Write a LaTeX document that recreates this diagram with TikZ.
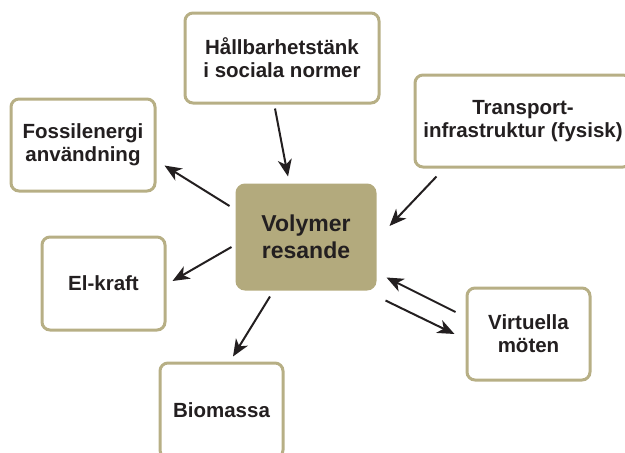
\documentclass[tikz,border=0pt]{standalone}
\usepackage{fontspec}
\setmainfont{Liberation Sans}
\usetikzlibrary{arrows.meta,calc}
\definecolor{olive}{HTML}{B7AF85}
\definecolor{olivefill}{HTML}{B3AA7D}
\definecolor{ink}{HTML}{231F20}
\tikzset{
  box/.style={draw=olive, line width=3pt, rounded corners=8pt, fill=white,
    align=center, text=ink, inner sep=0pt,
    font=\fontsize{20.5}{23}\selectfont\bfseries},
  centerbox/.style={box, fill=olivefill, draw=olivefill,
    font=\fontsize{23}{27}\selectfont\bfseries},
  conn/.style={draw=ink, line width=2pt, -{Stealth[length=17pt,width=14pt,inset=5pt]}},
}
\begin{document}
\begin{tikzpicture}[x=1pt,y=-1pt]
\useasboundingbox (0,0) rectangle (625,453);
\clip (0,0) rectangle (625,453);
\node[box, minimum width=194pt, minimum height=90pt] (H) at (282,58) {Hållbarhetstänk\\i sociala normer};
\node[box, minimum width=144pt, minimum height=92pt] (F) at (83,145) {Fossilenergi\\användning};
\node[box, minimum width=216pt, minimum height=92pt] (T) at (523,121) {Transport-\\infrastruktur (fysisk)};
\node[centerbox, minimum width=138pt, minimum height=104pt] (V) at (306,237) {Volymer\\resande};
\node[box, minimum width=123pt, minimum height=93pt] (E) at (103.5,283.5) {El-kraft};
\node[box, minimum width=123pt, minimum height=95pt] (B) at (221.5,410.5) {Biomassa};
\node[box, minimum width=123pt, minimum height=92pt] (Vi) at (528.5,334) {Virtuella\\möten};

\draw[conn] ($(H.south)+(-7,4)$) -- ($(V.north)+(-18,-7)$);
\draw[conn] ($(T.south west)+(23,8)$) -- ($(V.east)+(13,-11)$);
\draw[conn] ($(V.west)+(-6,-31)$) -- ($(F.south east)+(8,-27)$);
\draw[conn] ($(V.west)+(-4,10)$) -- ($(E.east)+(6,-2.5)$);
\draw[conn] ($(V.south)+(-36,6)$) -- ($(B.north)+(11.5,-5)$);
\draw[conn] ($(Vi.west)+(-10,-22)$) -- ($(V.south east)+(10,-13)$);
\draw[conn] ($(V.south east)+(9,10)$) -- ($(Vi.west)+(-11,0)$);
\end{tikzpicture}
\end{document}
